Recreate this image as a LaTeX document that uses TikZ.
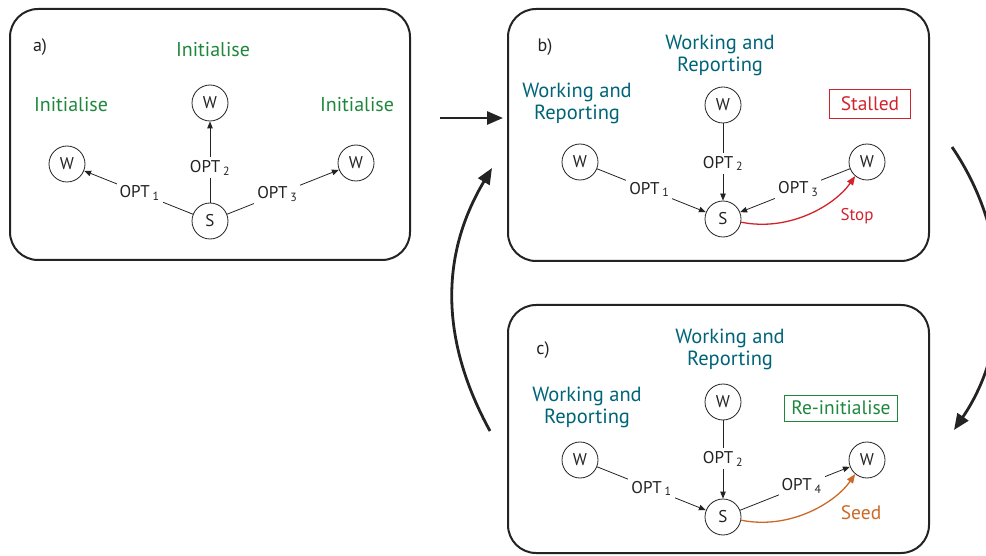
\documentclass[tikz,border=0pt]{standalone}
\usepackage{fontspec}
\setmainfont{PT Sans}
\usetikzlibrary{arrows.meta}
\definecolor{grn}{RGB}{30,135,60}
\definecolor{tealc}{RGB}{0,100,120}
\definecolor{redc}{RGB}{210,35,45}
\definecolor{orng}{RGB}{205,105,40}
\definecolor{ink}{RGB}{35,35,35}
\begin{document}
\begin{tikzpicture}[x=1pt,y=-1pt,
 panel/.style={draw=ink,line width=2pt,rounded corners=28pt},
 wn/.style={circle,draw=ink,line width=0.8pt,minimum size=36pt,inner sep=0pt,font=\fontsize{17}{17}\selectfont,fill=white,text=ink},
 lab/.style={fill=white,inner sep=3pt,font=\fontsize{17}{17}\selectfont,text=ink},
 edge/.style={draw=ink,line width=0.8pt},
 arr/.style={edge,-{Triangle[length=7pt,width=5.5pt]}},
 big/.style={draw=ink,line width=2.8pt,-{Triangle[length=16pt,width=13pt]}},
 init/.style={text=grn,font=\fontsize{20}{20}\selectfont},
 work/.style={text=tealc,font=\fontsize{20.5}{22}\selectfont,align=center},
 plabel/.style={font=\fontsize{18}{18}\selectfont,text=ink},
 tag/.style={font=\fontsize{19.5}{19.5}\selectfont,draw,line width=0.7pt,inner xsep=6pt,inner ysep=4pt}
]
\useasboundingbox (0,0) rectangle (986,556);
\clip (0,0) rectangle (986,556);

% ---------- panel a ----------
\draw[panel] (10,9) rectangle (410,260);
\node[plabel] (la) at (40,47) {a)};
\node[init] (ia1) at (213,50) {Initialise};
\node[init] (ia2) at (71,105) {Initialise};
\node[init] (ia3) at (357,105) {Initialise};
\node[wn] (aW2) at (210,103) {W};
\node[wn] (aW1) at (67,164) {W};
\node[wn] (aW3) at (356,163) {W};
\node[wn] (aS) at (210,221) {S};
\draw[arr] (aS) -- node[lab,pos=0.49] {OPT\,\textsubscript{1}} (aW1);
\draw[arr] (aS) -- node[lab,pos=0.43] {OPT\,\textsubscript{2}} (aW2);
\draw[arr] (aS) -- node[lab,pos=0.45] {OPT\,\textsubscript{3}} (aW3);

% ---------- panel b ----------
\draw[panel] (508,9) rectangle (929,261);
\node[plabel] (lb) at (545,47) {b)};
\node[work] (wb1) at (720,55) {Working and\\Reporting};
\node[work] (wb2) at (577,103) {Working and\\Reporting};
\node[tag,draw=redc,text=redc,minimum width=81pt,minimum height=29pt] (stalled) at (870,104) {Stalled};
\node[wn] (bW2) at (723,105) {W};
\node[wn] (bW1) at (580,162) {W};
\node[wn] (bW3) at (867,162) {W};
\node[wn] (bS) at (723,219) {S};
\draw[arr] (bW1) -- node[lab,pos=0.48] {OPT\,\textsubscript{1}} (bS);
\draw[arr] (bW2) -- node[lab,pos=0.52] {OPT\,\textsubscript{2}} (bS);
\draw[arr] (bW3) -- node[lab,pos=0.47] {OPT\,\textsubscript{3}} (bS);
\draw[draw=redc,line width=1.3pt,-{Triangle[length=9pt,width=7pt]}]
  (bS.-10) .. controls (790,232) and (835,205) .. (bW3.-130);
\node[text=redc,font=\fontsize{17}{17}\selectfont] (stop) at (857,216) {Stop};

% ---------- panel c ----------
\draw[panel] (508,305) rectangle (929,553);
\node[plabel] (lc) at (543,350) {c)};
\node[work] (wc1) at (730,349) {Working and\\Reporting};
\node[work] (wc2) at (587,407) {Working and\\Reporting};
\node[tag,draw=grn,text=grn,minimum width=113pt,minimum height=26pt,inner ysep=3pt] (reinit) at (841,408) {Re-initialise};
\node[wn] (cW2) at (723,402) {W};
\node[wn] (cW1) at (580,460) {W};
\node[wn] (cW3) at (867,460) {W};
\node[wn] (cS) at (723,517) {S};
\draw[arr] (cW1) -- node[lab,pos=0.5] {OPT\,\textsubscript{1}} (cS);
\draw[arr] (cW2) -- node[lab,pos=0.49] {OPT\,\textsubscript{2}} (cS);
\draw[arr] (cS) -- node[lab,pos=0.56] {OPT\,\textsubscript{4}} (cW3);
\draw[draw=orng,line width=1.3pt,-{Triangle[length=9pt,width=7pt]}]
  (cS.-10) .. controls (790,530) and (835,503) .. (cW3.-130);
\node[text=orng,font=\fontsize{19.5}{19.5}\selectfont] (seed) at (861,513) {Seed};

% ---------- cycle arrows ----------
\coordinate (h1) at (440,118);
\coordinate (h2) at (503,118);
\draw[big] (h1) -- (h2);
\coordinate (l1) at (490,431);
\coordinate (l2) at (492,168);
\draw[big] (l1) .. controls (440,340) and (440,255) .. (l2);
\coordinate (r1) at (952,147);
\coordinate (r2) at (954,430);
\draw[big] (r1) .. controls (1012,235) and (1012,345) .. (r2);
\end{tikzpicture}
\end{document}
